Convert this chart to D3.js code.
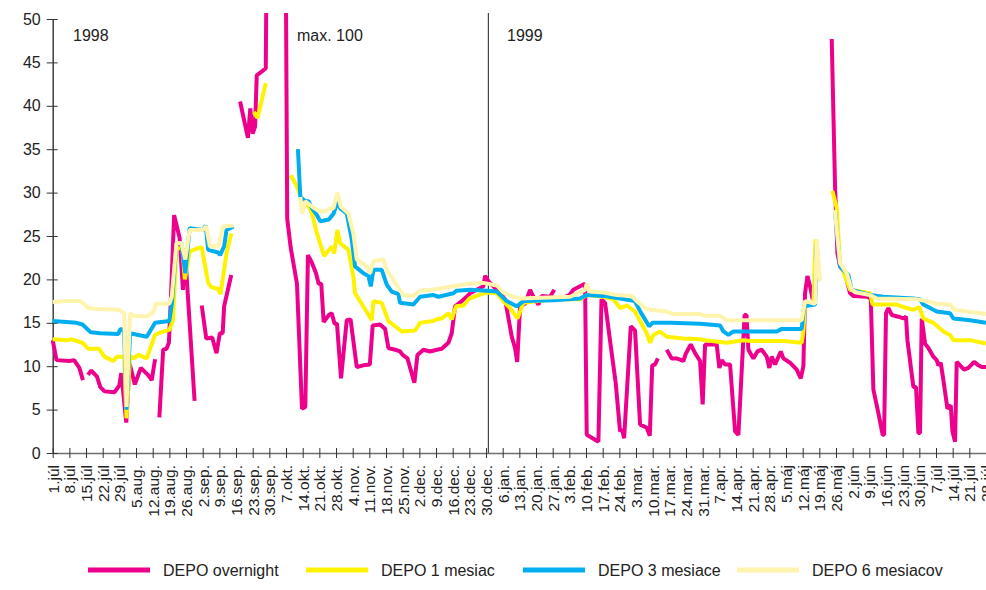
<!DOCTYPE html>
<html lang="sk">
<head>
<meta charset="UTF-8">
<title>DEPO sadzby 1998-1999</title>
<script src="https://d3js.org/d3.v7.min.js"></script>
<style>
  body { margin: 0; background: #fff; }
  svg { display: block; font-family: "Liberation Sans", Arial, sans-serif; }
  .series { fill: none; stroke-width: 4; stroke-linejoin: bevel; }
  .note { font-size: 16px; fill: #222; }
</style>
</head>
<body>
<svg width="986" height="590"></svg>
<script>
// days are counted from 1.7.1998, null = no quote (gap in the line)
const start = new Date(1998, 6, 1);

const tickLabels = ["1.júl","8.júl","15.júl","22.júl","29.júl","5.aug.","12.aug.","19.aug.","26.aug.",
  "2.sep.","9.sep.","16.sep.","23.sep.","30.sep.","7.okt.","14.okt.","21.okt.","28.okt.",
  "4.nov.","11.nov.","18.nov.","25.nov.","2.dec.","9.dec.","16.dec.","23.dec.","30.dec.",
  "6.jan.","13.jan.","20.jan.","27.jan.","3.feb.","10.feb.","17.feb.","24.feb.",
  "3.mar.","10.mar.","17.mar.","24.mar.","31.mar.","7.apr.","14.apr.","21.apr.","28.apr.",
  "5.máj","12.máj","19.máj","26.máj","2.jún","9.jún","16.jún","23.jún","30.jún",
  "7.júl","14.júl","21.júl","28.júl"];

const yTicks = [0, 5, 10, 15, 20, 25, 30, 35, 40, 45, 50];

const overnight = [
  [0,13.0],[1.6,10.7],[7,10.6],[9,10.7],[11.2,9.8],[12.7,8.4],[13.5,null],
  [14.8,9.0],[16.2,9.5],[18.6,8.8],[20,7.6],[21.8,7.1],[26,7.0],[28,7.8],[28.8,9.2],[30.9,3.5],
  [32.3,10.3],[34.5,7.9],[37,9.8],[40,9.0],[41.6,8.4],[43,10.8],[44,null],
  [44.8,4.1],[46.4,11.9],[47.8,12.0],[48.8,12.7],[49.6,17.5],[51,27.4],[53.3,24.8],[54.7,18.8],
  [55.5,23.6],[59.6,6.0],[61,null],
  [62.6,17.0],[64.5,13.2],[67,13.3],[68.8,11.5],[70.2,13.8],[71.4,13.8],[72,16.9],[75,20.5],[77,null],
  [78.7,40.5],[82,36.3],[83,39.7],[84,36.8],[85,37.6],[85.7,43.5],[88.5,44.1],[89.5,44.3],
  [91,100],[97,100],[98.5,27],[100,23.6],[102.6,19.5],[104.7,5.1],[106.1,5.3],[107.2,22.8],
  [108.9,21.9],[110.6,20.7],[111.7,19.5],[112.8,19.5],[113.8,15.1],[116,15.9],[117.2,16.1],
  [118.4,14.9],[119.4,14.9],[121.1,8.6],[123.5,15.3],[125.1,15.4],[127.7,9.9],[130.5,10.1],
  [133.2,10.2],[134.4,14.7],[137.5,14.8],[139.6,14.3],[141,12.1],[143.8,11.9],[145.9,11.7],
  [147,11.3],[149,10.9],[151.9,8.1],[153.2,11.3],[155.7,11.9],[158.5,11.7],[161.3,11.9],
  [163.4,12.0],[166.2,12.7],[167.6,13.8],[169,16.9],[171.8,17.5],[173.9,18.0],[175.3,18.4],
  [178.1,18.8],[180.9,19.2],[181.6,20.4],[183,19.8],[185.1,19.2],[187.9,18.4],[190,17.7],
  [192.8,13.4],[194.2,12.1],[195.1,10.5],[196.3,16.9],[198.4,17.2],[200.5,18.8],[201.9,18.0],
  [204,17.1],[205.4,18.1],[208.9,18.0],[210.7,18.8],[212.5,null],
  [215.2,18.0],[217,18.2],[218.7,18.8],[221.5,19.2],[223.6,19.5],[224.3,2.1],[229.2,1.3],
  [230.5,17.7],[232,17.3],[234.8,11.5],[236.5,8.0],[238.3,2.5],[239.2,2.7],[240,1.7],
  [242.8,14.6],[244.6,14.1],[246.7,3.3],[249.5,2.9],[250.8,2.0],[251.8,10.1],[253,10.2],
  [254.2,10.9],[256,null],
  [257.9,11.9],[260,10.9],[262,10.9],[264.9,10.6],[266,11.5],[268,12.5],[269.8,11.5],
  [271.9,10.6],[273,5.6],[274,12.5],[278.9,12.5],[280,9.8],[281,10.7],[282.4,10.2],
  [284.5,10.2],[286.6,2.5],[288,2.1],[290.6,15.9],[291.4,15.9],[292.2,11.9],[294.3,10.9],
  [296,11.7],[297.8,11.9],[299.9,11.1],[301,9.8],[302,11.1],[303.4,10.2],[305.8,11.7],
  [306.9,10.9],[309.7,10.4],[312.5,9.6],[314.2,8.6],[315.3,10.0],[316,18.4],[317,20.4],
  [318.1,19.2],[319.2,17.7],[323,null],
  [327.2,47.7],[328.6,30.7],[329.6,23.0],[330.7,21.5],[332.8,20.7],[334.9,18.4],[336.3,18.1],
  [341.9,18.0],[343.6,17.8],[344.7,7.3],[346.8,4.6],[348.6,2.1],[349.2,2.1],[350,16.1],
  [351,16.7],[352.4,15.9],[355.2,15.7],[357.3,15.5],[358.4,15.7],[359,13.0],[361.5,7.6],
  [362.6,7.6],[363.6,2.3],[364.3,2.3],[365,15.5],[366.4,12.6],[367.8,12.1],[369.9,11.1],
  [371.3,10.7],[372,10.1],[373,10.4],[374.1,8.4],[375.8,5.1],[377.2,5.5],[377.9,2.5],
  [379,1.3],[379.7,10.5],[381.1,10.1],[382.8,9.6],[384.6,9.8],[387,10.5],[388.8,10.1],
  [390.2,9.9],[392,9.9]
];

const mesiac1 = [
  [0,13.1],[6,13.0],[8,13.1],[12.5,12.7],[15,12.0],[19.5,12.0],[21.7,11.1],[25.5,10.6],
  [27,11.1],[30,11.1],[31,4.0],[32.5,11.2],[34,10.9],[36,11.3],[39.5,10.9],[43,13.6],
  [44.5,13.8],[49,14.2],[50.5,15.3],[52,23.6],[54.5,23.6],[55.5,20.0],[57.5,23.2],[60,23.5],
  [62.6,23.7],[65.3,19.6],[66.7,19.1],[69.5,18.9],[70.5,18.3],[73,23.0],[75,25.3],[78,null],
  [84.5,39.3],[86,38.6],[89.5,42.6],[92,null],
  [100,32.0],[102.6,30.7],[104.7,29.1],[106.8,28.8],[108.9,27.6],[111,25.3],[114,22.7],
  [117.2,23.8],[118.2,23.0],[119.6,25.7],[120.7,24.2],[124.2,23.4],[126.3,20.3],[127,18.4],
  [129.8,17.2],[134,15.3],[134.7,17.5],[138.2,17.3],[141,15.2],[143.8,14.6],[146.6,14.0],
  [152.2,14.1],[154.3,15.0],[159.9,15.2],[161.3,15.4],[163.4,15.5],[166.2,16.1],[167.6,15.4],
  [169.4,16.9],[172.5,17.0],[175,17.8],[178.1,18.1],[182.3,18.5],[186.5,18.4],[189.3,17.5],
  [192.1,16.7],[195.2,15.5],[197.7,17.3],[210.3,17.7],[221.5,17.7],[224.3,18.2],[231.3,18.0],
  [235.5,17.7],[238.3,16.7],[241.1,17.0],[244.6,16.3],[246.7,15.2],[249.5,13.8],[250.9,12.7],
  [252.3,13.6],[255,14.0],[257.9,13.4],[264.9,13.2],[271.9,13.1],[274,13.0],[283.1,12.7],
  [290.1,13.0],[292.9,12.9],[306.9,12.9],[314.6,12.7],[315.3,14.0],[316,17.4],[319.5,17.2],
  [320.4,24.6],[321.5,19.8],[324,null],
  [327.5,30.2],[329.3,28.2],[330.7,21.9],[334.9,18.8],[343.3,18.4],[344.4,17.1],[354.5,17.1],
  [358.7,16.7],[361.5,16.5],[364,16.8],[365.7,15.5],[369.9,15.0],[374.1,14.0],[376.9,13.6],
  [378.3,13.0],[385.3,13.0],[392,12.6]
];

const mesiace3 = [
  [0,15.2],[10,15.0],[12.5,14.8],[16,13.9],[20,13.8],[27.5,13.7],[28.5,14.3],[30,14.1],
  [31,5.0],[32.5,13.8],[39.5,13.4],[43,15.0],[49,15.2],[50,17.1],[52,24.2],[54,24.2],
  [55.7,20.7],[57.5,25.9],[63,25.7],[64.3,26.2],[65.3,23.4],[69.5,23.1],[70.3,22.8],[72,23.8],
  [73,25.7],[76,26.1],[80,null],
  [103,35.0],[104,29.5],[106.1,29.0],[107.5,29.0],[108.9,28.2],[111,27.4],[112.4,26.7],
  [116,26.9],[118,27.6],[119.7,29.0],[120.7,28.2],[123.5,27.6],[125.6,24.6],[127,21.5],
  [130.5,20.7],[132.6,20.4],[133.6,19.2],[134.7,21.1],[138.2,21.1],[140.3,19.4],[142.4,18.6],
  [145.2,18.3],[145.9,17.3],[151.5,17.1],[154.3,18.0],[159.9,18.2],[162,18.0],[168.3,18.4],
  [169.7,18.7],[175.3,18.8],[182.3,18.7],[186.5,18.6],[190.7,17.5],[194.9,16.9],[197.7,17.5],
  [210.3,17.6],[221.5,17.8],[224.3,18.2],[231.3,18.1],[238.3,17.8],[244.5,17.5],[247,16.2],
  [250.5,14.6],[252,15.0],[259.3,15.0],[271.9,14.9],[280.3,14.7],[281.7,14.0],[283.8,13.6],
  [285.9,14.0],[304.1,14.0],[306.2,14.3],[314.6,14.3],[315.6,16.9],[320.2,17.1],[320.9,24.0],
  [322,19.8],[325,null],
  [328.6,27.8],[330.7,21.5],[334.2,20.5],[335.6,18.8],[343.3,18.2],[348.9,18.0],[361.5,17.8],
  [364.3,17.7],[365.7,17.1],[371.3,16.3],[376.9,16.1],[378.3,15.5],[385.3,15.3],[392,15.0]
];

const mesiacov6 = [
  [0,17.4],[6,17.5],[11.5,17.5],[13,17.2],[15,16.7],[18.5,16.6],[28,16.5],[30,16.1],[31,5.3],
  [32.5,16.1],[34,15.8],[39.5,15.7],[42.5,16.3],[43.5,17.2],[49,17.2],[50,18.0],[52,24.2],
  [54,24.2],[55.7,22.3],[57.5,25.7],[63,25.7],[64.5,26.1],[66,23.8],[69.5,23.8],[71.5,26.1],
  [76,26.2],[80,null],
  [104,29.5],[104.7,27.6],[106.1,29.0],[108.9,28.4],[111,28.0],[113.7,27.8],[115.8,28.1],
  [117.9,28.2],[119.6,30.0],[121,28.4],[124.2,27.6],[126.3,25.3],[127.7,22.3],[131.9,21.5],
  [133.3,20.7],[134.7,22.1],[138.9,22.3],[140.3,21.1],[143.8,19.6],[147.3,18.2],[151.5,18.1],
  [154.3,18.7],[161.3,18.9],[168.3,19.2],[174.6,19.5],[180.9,19.6],[186.5,19.3],[189.3,18.5],
  [193.5,18.0],[196.3,17.8],[217.3,18.0],[223.6,18.8],[224.3,19.5],[225.7,18.6],[231.3,18.5],
  [236.9,18.2],[243.2,18.1],[245.3,17.5],[248.8,16.7],[250.9,16.5],[257.9,16.3],[260.7,16.0],
  [271.9,16.0],[274,15.8],[280.3,15.8],[283.1,15.3],[299.9,15.3],[314.6,15.3],[316,17.5],
  [320.2,17.2],[320.9,24.6],[322.3,19.8],[325,null],
  [328.5,28.0],[330.7,21.9],[333.5,20.7],[335.6,18.8],[337.7,18.5],[343.3,18.2],[346.1,17.8],
  [362.9,17.7],[367.1,17.5],[371.3,17.2],[376.9,17.1],[379,16.5],[383.9,16.3],[392,16.0]
];

const series = [
  { name: "DEPO overnight",    color: "#ec008c", values: overnight },
  { name: "DEPO 1 mesiac",     color: "#fff200", values: mesiac1 },
  { name: "DEPO 3 mesiace",    color: "#00aeef", values: mesiace3 },
  { name: "DEPO 6 mesiacov",   color: "#fff4ad", values: mesiacov6 }
];

const dayToDate = d => new Date(start.getTime() + d * 864e5);

const svg = d3.select("svg");
const plotLeft = 52.7, plotRight = 986, plotTop = 19, plotBottom = 453;

const x = d3.scaleTime()
  .domain([start, dayToDate(392)])
  .range([plotLeft, plotRight]);

const y = d3.scaleLinear()
  .domain([0, 50])
  .range([plotBottom, plotTop]);

// clip so the october spike (max. 100) runs off the top
svg.append("clipPath").attr("id", "plot")
  .append("rect")
  .attr("x", plotLeft - 2).attr("y", 13)
  .attr("width", plotRight - plotLeft + 4).attr("height", plotBottom - 13 + 6);

// separator between years
svg.append("line")
  .attr("x1", x(dayToDate(183))).attr("x2", x(dayToDate(183)))
  .attr("y1", 13).attr("y2", plotBottom)
  .attr("stroke", "#444").attr("stroke-width", 1.2);

// x axis
const tickDates = tickLabels.map((t, i) => dayToDate(i * 7));
const xAxis = svg.append("g")
  .attr("transform", `translate(0,${plotBottom})`)
  .call(d3.axisBottom(x)
    .tickValues(tickDates)
    .tickFormat((d, i) => tickLabels[i])
    .tickSize(5)
    .tickSizeOuter(0));
xAxis.select(".domain").attr("stroke", "#6e6e6e").attr("stroke-width", 1.6);
xAxis.selectAll(".tick line").attr("y1", -5).attr("stroke", "#333");
xAxis.selectAll(".tick text")
  .attr("transform", "rotate(-90)")
  .attr("text-anchor", "end")
  .attr("x", -12)
  .attr("y", 0)
  .attr("dy", "0.36em")
  .attr("font-size", 15.5)
  .attr("font-family", "Liberation Sans, Arial, sans-serif")
  .attr("fill", "#222");

// y axis
const yAxis = svg.append("g")
  .attr("transform", `translate(${plotLeft},0)`)
  .call(d3.axisLeft(y)
    .tickValues(yTicks)
    .tickSize(6)
    .tickSizeOuter(0)
    .tickPadding(6));
yAxis.select(".domain").attr("stroke", "#333").attr("stroke-width", 1.4);
yAxis.selectAll(".tick line").attr("x1", 5).attr("stroke", "#333");
yAxis.selectAll(".tick text")
  .attr("font-size", 16)
  .attr("font-family", "Liberation Sans, Arial, sans-serif")
  .attr("fill", "#222");

// the four rate lines
const line = d3.line()
  .defined(d => d[1] != null)
  .x(d => x(dayToDate(d[0])))
  .y(d => y(d[1]));

svg.append("g")
  .attr("clip-path", "url(#plot)")
  .selectAll("path")
  .data(series)
  .join("path")
  .attr("class", "series")
  .attr("stroke", d => d.color)
  .attr("d", d => line(d.values));

// annotations
svg.append("text").attr("class", "note").attr("x", 73).attr("y", 41).text("1998");
svg.append("text").attr("class", "note").attr("x", 297).attr("y", 41).text("max. 100");
svg.append("text").attr("class", "note").attr("x", 507).attr("y", 41).text("1999");

// legend
const legendX = [88, 306, 523, 737];
const legend = svg.append("g")
  .selectAll("g")
  .data(series)
  .join("g")
  .attr("transform", (d, i) => `translate(${legendX[i]},570)`);
legend.append("line")
  .attr("x1", 0).attr("x2", 62)
  .attr("stroke", d => d.color)
  .attr("stroke-width", 5);
legend.append("text")
  .attr("x", 75).attr("y", 0).attr("dy", "0.35em")
  .attr("font-size", 16)
  .attr("fill", "#222")
  .text(d => d.name);
</script>
</body>
</html>
